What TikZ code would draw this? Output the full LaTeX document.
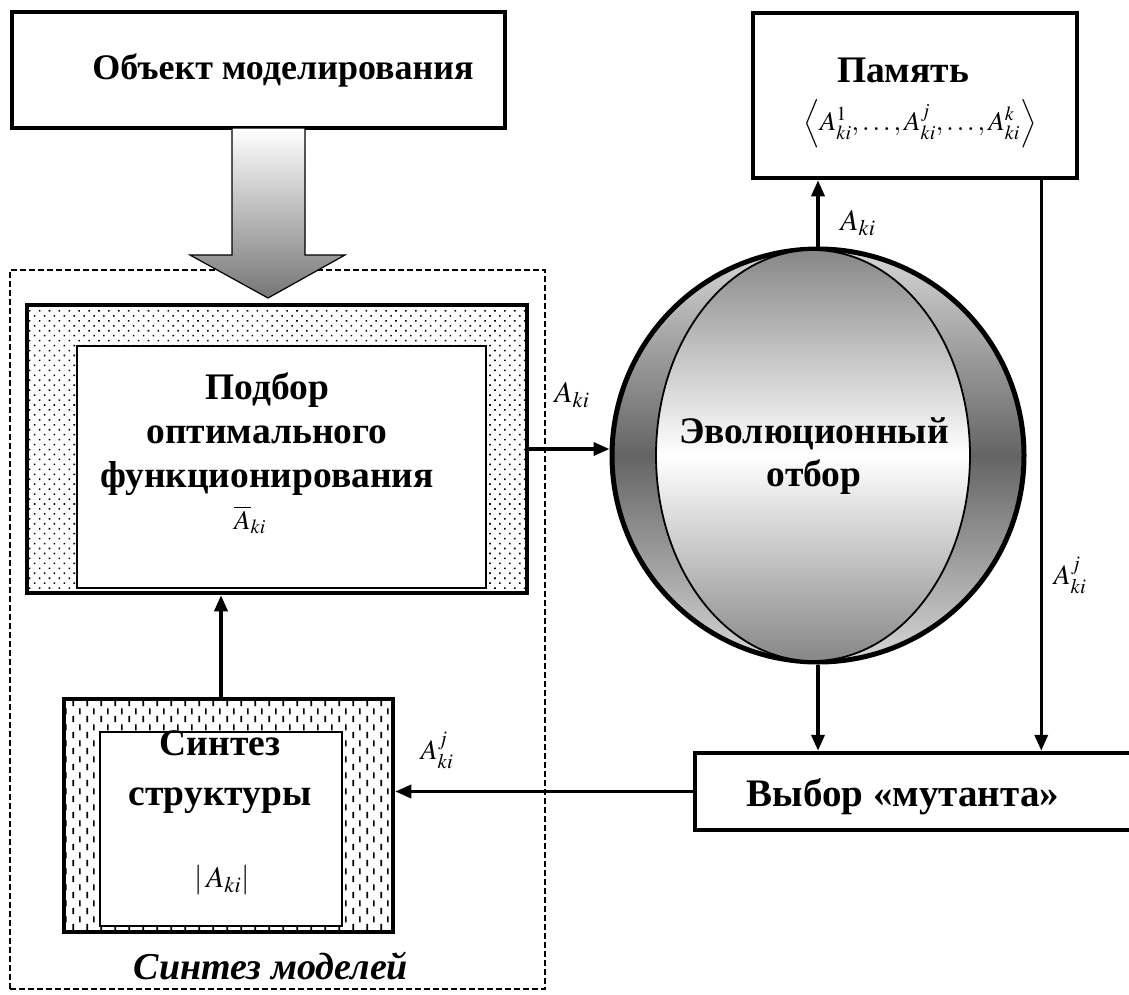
\documentclass[tikz,border=0pt]{standalone}
\usepackage{mathptmx}
\usepackage{fontspec}
\setmainfont{Liberation Serif}
\usetikzlibrary{arrows.meta,patterns.meta,shapes.geometric,calc}
\tikzdeclarepattern{
  name=VDashes,
  type=uncolored,
  bounding box={(0pt,0pt) and (14pt,16pt)},
  tile size={(14pt,16pt)},
  code={
    \draw[line width=1.7pt] (3.5pt,1pt) -- (3.5pt,7.5pt);
    \draw[line width=1.7pt] (10.5pt,9pt) -- (10.5pt,15.5pt);
  }
}
\definecolor{arrowgray}{RGB}{118,118,118}
\definecolor{ringlight}{RGB}{215,215,215}
\definecolor{ringdark}{RGB}{100,100,100}
\definecolor{coregray}{RGB}{135,135,135}
\tikzset{
  box/.style={draw, line width=4.5pt, rectangle, inner sep=0pt, fill=white},
  innerbox/.style={draw, line width=2pt, rectangle, inner sep=0pt, fill=white},
  txt/.style={font=\bfseries\fontsize{37.5}{44}\selectfont, inner sep=0pt, align=center},
  conn/.style={line width=3.5pt, -{Triangle[length=16pt,width=13pt]}},
  lab/.style={font=\fontsize{30}{34}\selectfont, inner sep=0pt},
  smalllab/.style={font=\fontsize{28}{32}\selectfont, inner sep=0pt},
  frame/.style={draw, dash pattern=on 6pt off 3pt, line width=2pt, rectangle, inner sep=0pt},
}
\begin{document}
\begin{tikzpicture}[x=1pt,y=-1pt]
\useasboundingbox (0,0) rectangle (1129,994);
\fill[white] (0,0) rectangle (1129,994);

% dashed frame of model synthesis
\node[frame, minimum width=535pt, minimum height=719pt] (frame) at (277.5,629.5) {};
\node[font=\bfseries\itshape\fontsize{38}{42}\selectfont, inner sep=0pt] (framelab) at (271,966) {Синтез моделей};

% object of modelling
\node[box, minimum width=493pt, minimum height=116pt] (obj) at (258.5,70) {};
\node[txt, font=\bfseries\fontsize{36}{42}\selectfont] (objt) at (283,70) {Объект моделирования};

% big block arrow
\shade[top color=white, bottom color=arrowgray, draw=black, line width=1.2pt]
  (232,128) -- (232,255) -- (190,255) -- (268,298) -- (345,255) -- (305,255) -- (305,128) -- cycle;

% memory
\node[box, minimum width=324pt, minimum height=165pt] (mem) at (915,95.5) {};
\node[txt] (memt) at (903,70) {Память};
\node[font=\fontsize{27}{30}\selectfont, inner sep=0pt] (memf) at (920,124) {$\left\langle A_{ki}^{1},\ldots,A_{ki}^{j},\ldots,A_{ki}^{k}\right\rangle$};

% selection of optimal functioning
\node[box, pattern={Dots[radius=1.1pt,distance=7pt,angle=45]}, minimum width=500pt, minimum height=288pt] (podb) at (277,449) {};
\node[innerbox, minimum width=409pt, minimum height=242pt] (podbin) at (281.5,467) {};
\node[txt] (podbt) at (267,434) {Подбор\\оптимального\\функционирования};
\node[font=\fontsize{27}{30}\selectfont, inner sep=0pt] (podbf) at (250,520) {$\overline{A}_{ki}$};

% structure synthesis
\node[box, pattern=VDashes, minimum width=329pt, minimum height=233pt] (sint) at (228.5,815.5) {};
\node[innerbox, minimum width=242pt, minimum height=194pt] (sintin) at (221,829) {};
\node[txt, font=\bfseries\fontsize{37.5}{50}\selectfont] (sintt) at (220,772) {Синтез\\структуры};
\node[lab] (sintf) at (222,880) {$\left|\,A_{ki}\right|$};

% evolutionary selection sphere
\node[ellipse, draw, line width=5pt, minimum width=412pt, minimum height=413pt, inner sep=0pt,
      top color=ringlight, bottom color=ringlight, middle color=ringdark] (sphere) at (818,455.5) {};
\node[ellipse, draw, line width=1.8pt, minimum width=314pt, minimum height=411pt, inner sep=0pt,
      top color=coregray, bottom color=coregray, middle color=white] (core) at (813,455.5) {};
\node[txt, font=\bfseries\fontsize{37.5}{43}\selectfont] (spht) at (814,456) {Эволюционный\\отбор};

% mutant choice
\node[box, minimum width=445pt, minimum height=77pt] (vyb) at (917.5,791.5) {};
\node[txt, font=\bfseries\fontsize{39}{44}\selectfont] (vybt) at (903,797) {Выбор «мутанта»};

% connectors
\draw[conn] (podb.east) -- (podb.east -| sphere.west);
\node[lab] (l1) at (572,395) {$A_{ki}$};
\draw[conn] (sphere.north) -- (sphere.north |- mem.south);
\node[lab] (l2) at (858,223) {$A_{ki}$};
\draw[conn] (sphere.south) -- (sphere.south |- vyb.north);
\coordinate (mr) at ([xshift=-38pt]mem.south east);
\draw[conn] (mr) -- (mr |- vyb.north);
\node[smalllab] (l3) at (1070,575) {$A_{ki}^{j}$};
\draw[conn] (vyb.west) -- (vyb.west -| sint.east);
\node[smalllab] (l4) at (437,750) {$A_{ki}^{j}$};
\coordinate (su) at (sintin.north |- sint.north);
\draw[conn] (su) -- (su |- podb.south);
\end{tikzpicture}
\end{document}
